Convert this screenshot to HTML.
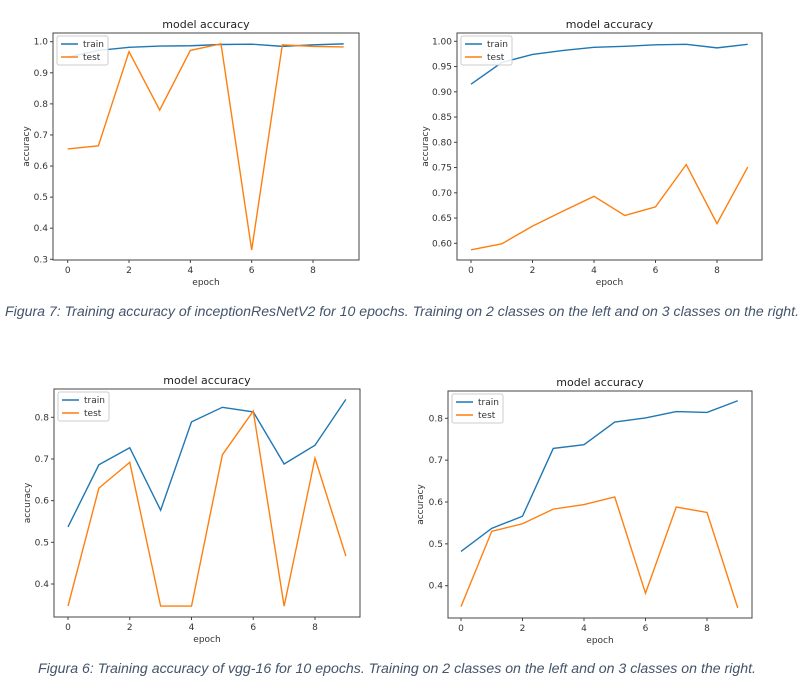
<!DOCTYPE html>
<html><head><meta charset="utf-8"><style>
body{margin:0;background:#fff;}
svg{display:block;font-family:"DejaVu Sans","Liberation Sans",sans-serif;}
</style></head><body>
<svg id="root" width="809" height="687" viewBox="0 0 809 687">
<text x="402" y="316" font-family="Liberation Sans, sans-serif" font-style="italic" font-size="13.5" fill="#44546a" text-anchor="middle" textLength="794" lengthAdjust="spacingAndGlyphs">Figura 7: Training accuracy of inceptionResNetV2 for 10 epochs. Training on 2 classes on the left and on 3 classes on the right.</text>
<text x="397" y="673" font-family="Liberation Sans, sans-serif" font-style="italic" font-size="13.5" fill="#44546a" text-anchor="middle" textLength="718" lengthAdjust="spacingAndGlyphs">Figura 6: Training accuracy of vgg-16 for 10 epochs. Training on 2 classes on the left and on 3 classes on the right.</text>
</svg>
<script>
const epochs = [0,1,2,3,4,5,6,7,8,9];
const xTicks = [0,2,4,6,8];
const c1Train = [0.950,0.972,0.982,0.986,0.987,0.991,0.992,0.985,0.990,0.993];
const c1Test  = [0.655,0.665,0.968,0.780,0.972,0.993,0.330,0.990,0.985,0.983];
const c1YTicks = [0.3,0.4,0.5,0.6,0.7,0.8,0.9,1.0];
const c2Train = [0.915,0.958,0.974,0.982,0.988,0.990,0.993,0.994,0.987,0.994];
const c2Test  = [0.587,0.599,0.634,0.664,0.693,0.655,0.672,0.756,0.639,0.751];
const c2YTicks = [0.60,0.65,0.70,0.75,0.80,0.85,0.90,0.95,1.00];
const c3Train = [0.537,0.686,0.727,0.577,0.789,0.824,0.813,0.688,0.733,0.843];
const c3Test  = [0.347,0.630,0.692,0.347,0.347,0.710,0.815,0.347,0.702,0.467];
const c3YTicks = [0.4,0.5,0.6,0.7,0.8];
const c4Train = [0.482,0.537,0.566,0.728,0.737,0.791,0.801,0.816,0.814,0.842];
const c4Test  = [0.350,0.530,0.548,0.583,0.594,0.612,0.382,0.588,0.575,0.347];
const c4YTicks = [0.4,0.5,0.6,0.7,0.8];

const NS = "http://www.w3.org/2000/svg";
const root = document.getElementById('root');
function mk(tag, attrs, parent){
  const e = document.createElementNS(NS, tag);
  for (const k in attrs) e.setAttribute(k, attrs[k]);
  (parent||root).appendChild(e);
  return e;
}
function chart(name, g, train, test, yTicks, dec){
  const grp = mk('g', {});
  
  
  const sx = v => g.x0 + (v - 0) * (g.x8 - g.x0) / 8;
  const sy = v => g.yA + (v - g.vA) * (g.yB - g.yA) / (g.vB - g.vA);
  const t = mk('text', {x:(g.L+g.R)/2, y:g.T-5, 'font-size':11, fill:'#222', 'text-anchor':'middle'}, grp);
  t.textContent = 'model accuracy';
  
  
  const mkLine = (vals, color, nm) => {
    const p = mk('polyline', {points: vals.map((v,i)=>sx(epochs[i])+','+sy(v)).join(' '), fill:'none', stroke:color, 'stroke-width':1.4}, grp);
    
    
  };
  mkLine(train, '#1f77b4', 'train-line');
  mkLine(test, '#ff7f0e', 'test-line');
  const box = mk('rect', {x:g.L, y:g.T, width:g.R-g.L, height:g.B-g.T, fill:'none', stroke:'#444', 'stroke-width':1}, grp);
  
  
  xTicks.forEach(v => {
    mk('line', {x1:sx(v), x2:sx(v), y1:g.B, y2:g.B+3, stroke:'#444'}, grp);
    const tx = mk('text', {x:sx(v), y:g.B+13, 'font-size':9, fill:'#333', 'text-anchor':'middle'}, grp);
    tx.textContent = v;
    
    
  });
  yTicks.forEach(v => {
    mk('line', {x1:g.L-3, x2:g.L, y1:sy(v), y2:sy(v), stroke:'#444'}, grp);
    const ty = mk('text', {x:g.L-5, y:sy(v)+3, 'font-size':9, fill:'#333', 'text-anchor':'end'}, grp);
    ty.textContent = v.toFixed(dec);
    
    
  });
  const xl = mk('text', {x:(g.L+g.R)/2, y:g.B+25, 'font-size':9, fill:'#333', 'text-anchor':'middle'}, grp);
  xl.textContent = 'epoch';
  
  
  const yl = mk('text', {x:0, y:0, 'font-size':9, fill:'#333', 'text-anchor':'middle', transform:`translate(${g.ylx},${(g.T+g.B)/2}) rotate(-90)`}, grp);
  yl.textContent = 'accuracy';
  
  
  const lg = mk('g', {}, grp);
  
  
  mk('rect', {x:g.L+4, y:g.T+3, width:51, height:29, fill:'#fff', 'fill-opacity':0.85, stroke:'#ccc', rx:2}, lg);
  [['train','#1f77b4'],['test','#ff7f0e']].forEach((e,i)=>{
    const yy = g.T+11+i*13;
    mk('line', {x1:g.L+8, x2:g.L+25, y1:yy, y2:yy, stroke:e[1], 'stroke-width':1.4}, lg);
    const lt = mk('text', {x:g.L+30, y:yy+3, 'font-size':9, fill:'#333'}, lg);
    lt.textContent = e[0];
    
    
  });
}
chart('chart-inception-2-classes', {L:53,R:359,T:33,B:260,x0:67.7,x8:313,yA:41.7,vA:1.0,yB:259.3,vB:0.3,ylx:29}, c1Train, c1Test, c1YTicks, 1);
chart('chart-inception-3-classes', {L:457,R:762,T:33,B:260,x0:471,x8:717,yA:41.3,vA:1.0,yB:243.3,vB:0.6,ylx:428}, c2Train, c2Test, c2YTicks, 2);
chart('chart-vgg16-2-classes', {L:54,R:360,T:389,B:617,x0:68,x8:315,yA:417.3,vA:0.8,yB:584,vB:0.4,ylx:30}, c3Train, c3Test, c3YTicks, 1);
chart('chart-vgg16-3-classes', {L:448,R:752,T:391,B:618,x0:461,x8:707,yA:418.3,vA:0.8,yB:585.7,vB:0.4,ylx:423}, c4Train, c4Test, c4YTicks, 1);
</script>
</body></html>
